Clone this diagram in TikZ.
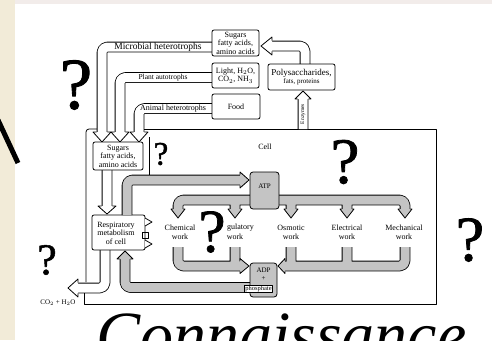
\documentclass[tikz,border=0pt]{standalone}
\usepackage{fontspec}
\setmainfont{Liberation Serif}
\newfontfamily\qfont[FakeBold=1.2]{Liberation Serif}
\definecolor{shadeg}{HTML}{C4C4C4}
\definecolor{beigel}{HTML}{F2EBD8}
\definecolor{topstrip}{HTML}{F2ECEA}
\newcommand\headH[6]{%
 \fill[#6] (#1,{#2-#5}) -- (#1,{#2-#4}) -- (#3,#2) -- (#1,{#2+#4}) -- (#1,{#2+#5}) -- cycle;
 \draw[ln] (#1,{#2-#5}) -- (#1,{#2-#4}) -- (#3,#2) -- (#1,{#2+#4}) -- (#1,{#2+#5});}
\newcommand\headV[6]{%
 \fill[#6] ({#1-#5},#2) -- ({#1-#4},#2) -- (#1,#3) -- ({#1+#4},#2) -- ({#1+#5},#2) -- cycle;
 \draw[ln] ({#1-#5},#2) -- ({#1-#4},#2) -- (#1,#3) -- ({#1+#4},#2) -- ({#1+#5},#2);}
\begin{document}
\begin{tikzpicture}[x=1pt,y=-1pt,line join=round,
  ln/.style={line width=0.8pt},
  bx/.style={draw,line width=0.8pt,fill=white,rounded corners=2pt,inner sep=0pt,align=center,font=\fontsize{8}{8.5}\selectfont},
  gbx/.style={draw,line width=0.8pt,fill=shadeg,rounded corners=3pt,inner sep=0pt},
  lbl/.style={inner sep=0pt,align=center,font=\fontsize{8}{8.5}\selectfont},
  qm/.style={inner sep=0pt,font=\qfont\fontsize{#1}{#1}\selectfont},
  wband/.style={line width=9pt,white,rounded corners=5pt,preaction={draw=black,line width=10.6pt}},
  gband/.style={line width=9pt,shadeg,rounded corners=5pt,preaction={draw=black,line width=10.6pt}}]
\useasboundingbox (0,0) rectangle (492,340);
% background
\fill[white] (0,0) rectangle (492,340);
\fill[beigel] (0,0) rectangle (15,340);
\fill[topstrip] (15,0) rectangle (492,4);
% cell outline
\draw[ln,rounded corners=3pt] (86,282) -- (86,129) -- (97,129);
\draw[ln] (143,129) -- (436,129) -- (436,304) -- (84,304) -- (84,293);
\draw[ln] (149,137) -- (149,176);
% white outline bands
\draw[wband] (212,47) -- (102,47) -- (102,132)
  (212,77.5) -- (120,77.5) -- (120,132)
  (212,108.5) -- (139,108.5) -- (139,132)
  (305,64) -- (305,46) -- (272,46)
  (303,129) -- (303,99)
  (107,170) -- (107,206)
  (105,250) -- (105,288) -- (78,288);
\headV{102}{132}{142}{9}{5.3}{white}
\headV{120}{132}{142}{9}{5.3}{white}
\headV{139}{132}{142}{9}{5.3}{white}
\headH{272}{46}{261}{9}{5.3}{white}
\headV{303}{99}{91}{8}{5.3}{white}
\headV{107}{206}{214}{9}{5.3}{white}
\headH{78}{288}{68}{9}{5.3}{white}
% band labels
\node[lbl,font=\fontsize{9.5}{10}\selectfont] (lmic) at (158,47) {Microbial heterotrophs};
\node[lbl,font=\fontsize{7.5}{8}\selectfont] (lpla) at (163,77.5) {Plant autotrophs};
\node[lbl,font=\fontsize{8}{9}\selectfont] (lani) at (173,108.5) {Animal heterotrophs};
\node[lbl,font=\fontsize{5.5}{6}\selectfont,rotate=90] (lenz) at (303,114) {Enzymes};
% top boxes
\node[bx,minimum width=47pt,minimum height=26pt] (sugtop) at (235.5,43) {Sugars\\fatty acids,\\amino acids};
\node[bx,minimum width=47pt,minimum height=25pt] (light) at (235.5,75.5) {Light, H$_2$O,\\CO$_2$, NH$_3$};
\node[bx,minimum width=48pt,minimum height=25pt] (food) at (236,106.5) {Food};
\node[bx,minimum width=67pt,minimum height=26pt] (poly) at (301.5,77) {\fontsize{9}{10}\selectfont Polysaccharides,\\\fontsize{7}{8}\selectfont fats, proteins};
% inner boxes
\node[bx,minimum width=50pt,minimum height=28pt] (suginn) at (118,156) {Sugars\\fatty acids,\\amino acids};
\node[bx,minimum width=53pt,minimum height=35pt] (resp) at (118.5,232.5) {};
\node[lbl,anchor=center] (resptxt) at (116,233) {Respiratory\\metabolism\\of cell};
\draw[ln] (142.5,232) rectangle (148,238);
\filldraw[ln,fill=white] (145,218) -- (152,222) -- (145,226);
\filldraw[ln,fill=white] (145,240) -- (152,244) -- (145,248);
\node[lbl,font=\fontsize{7}{8}\selectfont] (co2) at (58,303) {CO$_2$ + H$_2$O};
\node[lbl] (cell) at (265,147) {Cell};
% gray network
\draw[gband] (127,215) -- (127,180) -- (240,180)
  (178,209) -- (178,200) -- (405,200) -- (405,209)
  (235,200) -- (235,209) (291,200) -- (291,209) (347,200) -- (347,209)
  (178,247) -- (178,266) -- (240,266) (235,247) -- (235,266)
  (405,247) -- (405,266) -- (285,266) (291,247) -- (291,266) (347,247) -- (347,266)
  (250,287.5) -- (125,287.5) -- (125,259);
\headH{240}{180}{249}{8}{5.3}{shadeg}
\foreach \xx in {178,235,291,347,405} {\headV{\xx}{209}{218}{7}{5.3}{shadeg}}
\headH{240}{266}{249}{7.5}{5.3}{shadeg}
\headH{285}{266}{278}{7.5}{5.3}{shadeg}
\headV{125}{259}{251}{8}{5.3}{shadeg}
\node[gbx,minimum width=29pt,minimum height=37pt] (atp) at (264.5,190.5) {};
\node[lbl,font=\fontsize{7}{8}\selectfont] (atptxt) at (264.5,186) {ATP};
\node[gbx,minimum width=27pt,minimum height=34pt] (adp) at (263.5,280) {};
\node[lbl,font=\fontsize{7}{7.5}\selectfont] (adptxt) at (263.5,274) {ADP\\+};
\node[draw,ln,fill=white,inner sep=0.6pt,font=\fontsize{6.5}{7}\selectfont] (phos) at (258.5,288.5) {phosphate};
% work labels
\node[lbl] (wchem) at (180,232.5) {Chemical\\work};
\node[lbl,anchor=north west] (wreg1) at (227,224) {gulatory};
\node[lbl] (wreg2) at (235,237) {work};
\node[lbl] (wosm) at (291,232.5) {Osmotic\\work};
\node[lbl] (wele) at (347,232.5) {Electrical\\work};
\node[lbl] (wmec) at (404,232.5) {Mechanical\\work};
% question marks
\node[qm=73] (q1) at (76,85) {?};
\node[qm=33] (q2) at (161,154) {?};
\node[qm=65] (q3) at (345,162) {?};
\node[qm=61] (q4) at (212,232) {?};
\node[qm=44] (q5) at (47,260) {?};
\node[qm=64] (q6) at (470,240) {?};
% big title and stroke
\node[anchor=base west,inner sep=0pt,font=\fontsize{66}{66}\selectfont\itshape] (conn) at (96,357) {Connaissance};
\draw[line width=5pt] (-2,120) -- (18,163);
\end{tikzpicture}
\end{document}
